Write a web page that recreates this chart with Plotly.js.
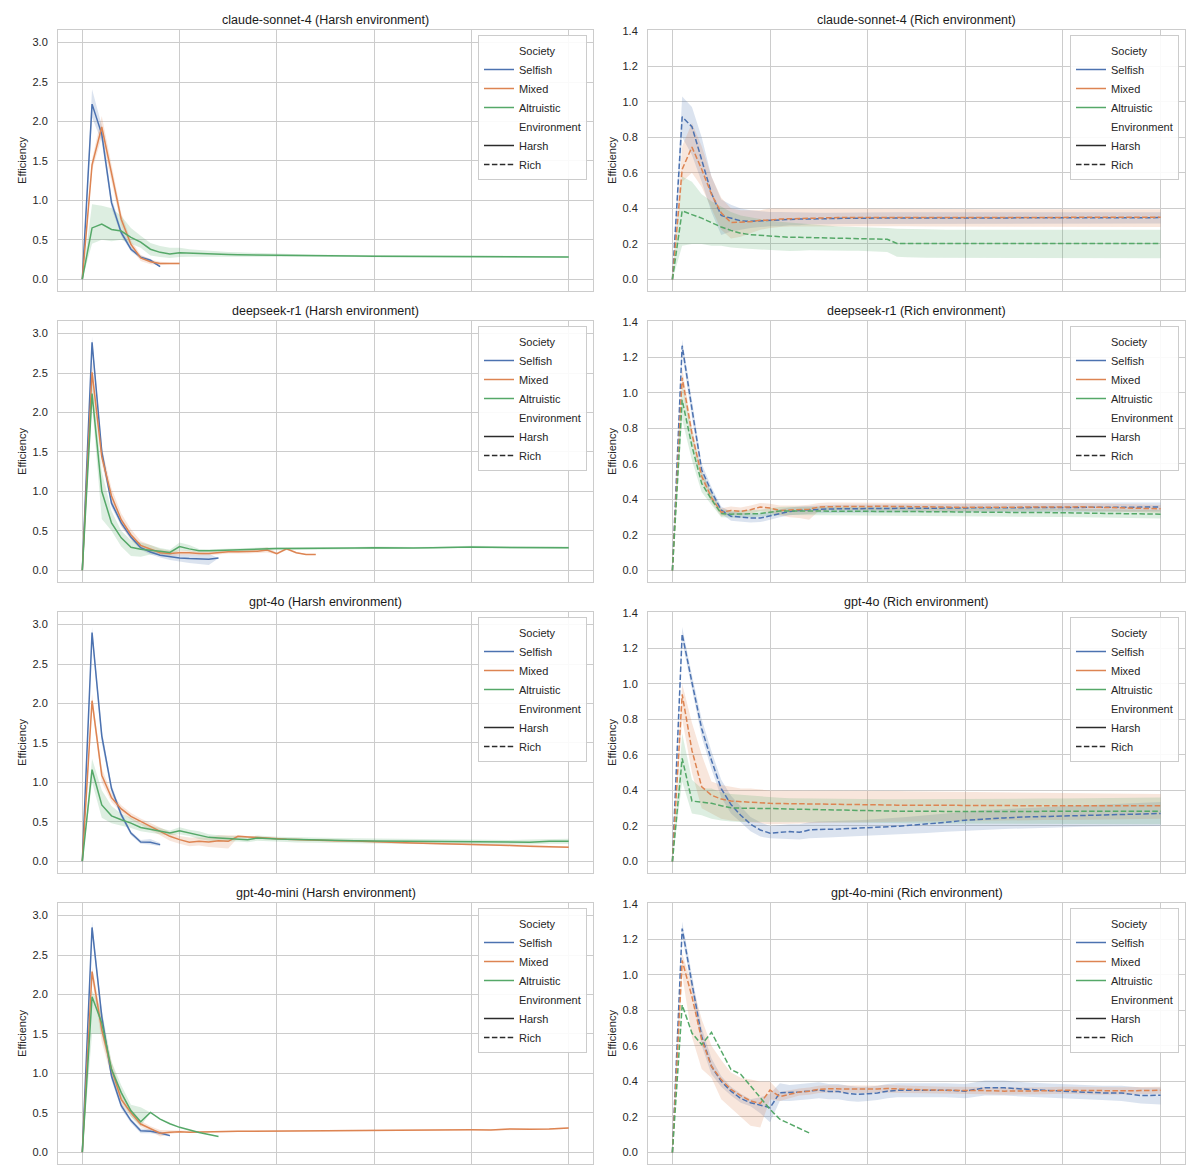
<!DOCTYPE html>
<html>
<head>
<meta charset="utf-8">
<script src="https://cdn.plot.ly/plotly-3.0.1.min.js"></script>
<style>
  html, body { margin: 0; padding: 0; background: #fff; }
  #chart { width: 1200px; height: 1173px; }
</style>
</head>
<body>
<div id="chart"></div>
<script>
// rounds (x positions): every round up to 24, then every other round
const steps = [0, 1, 2, 3, 4, 5, 6, 7, 8, 9, 10, 11, 12, 13, 14, 15, 16, 17, 18, 19, 20, 21, 22, 23, 24,
  26, 28, 30, 32, 34, 36, 38, 40, 42, 44, 46, 48, 50];

const panelTitles = [
  'claude-sonnet-4 (Harsh environment)', 'claude-sonnet-4 (Rich environment)',
  'deepseek-r1 (Harsh environment)', 'deepseek-r1 (Rich environment)',
  'gpt-4o (Harsh environment)', 'gpt-4o (Rich environment)',
  'gpt-4o-mini (Harsh environment)', 'gpt-4o-mini (Rich environment)'
];
const societies = ['Selfish', 'Mixed', 'Altruistic'];
const environments = ['Harsh', 'Rich'];

// ---- claude-sonnet-4, harsh
const claudeHarshSelfish = [0, 2.22, 1.84, 0.97, 0.59, 0.38, 0.28, 0.24, 0.16];
const claudeHarshSelfishLo = [0, 2.05, 1.74, 0.90, 0.55, 0.35, 0.26, 0.22, 0.15];
const claudeHarshSelfishHi = [0, 2.41, 1.95, 1.04, 0.64, 0.41, 0.30, 0.26, 0.17];
const claudeHarshMixed = [0, 1.45, 1.93, 1.34, 0.76, 0.44, 0.27, 0.22, 0.20, 0.20, 0.20];
const claudeHarshMixedLo = [0, 1.38, 1.80, 1.24, 0.68, 0.39, 0.23, 0.19, 0.18, 0.19, 0.19];
const claudeHarshMixedHi = [0, 1.52, 2.07, 1.44, 0.84, 0.49, 0.31, 0.25, 0.22, 0.21, 0.21];
const claudeHarshAltruistic = [0, 0.65, 0.70, 0.63, 0.61, 0.53, 0.47, 0.38, 0.34, 0.32, 0.335, 0.33, 0.32, 0.318, 0.315, 0.312, 0.31, 0.308, 0.305, 0.303, 0.30, 0.30, 0.298, 0.297, 0.296,
  0.295, 0.293, 0.292, 0.29, 0.289, 0.288, 0.287, 0.286, 0.285, 0.284, 0.283, 0.282, 0.28];
const claudeHarshAltruisticLo = [0, 0.45, 0.50, 0.48, 0.50, 0.45, 0.40, 0.30, 0.28, 0.27, 0.28, 0.285, 0.29, 0.29, 0.29, 0.29, 0.29, 0.29, 0.288, 0.287, 0.285, 0.285, 0.284, 0.283, 0.282,
  0.281, 0.28, 0.279, 0.278, 0.277, 0.276, 0.275, 0.274, 0.273, 0.272, 0.271, 0.27, 0.268];
const claudeHarshAltruisticHi = [0, 0.95, 0.93, 0.90, 0.80, 0.65, 0.55, 0.46, 0.42, 0.40, 0.40, 0.38, 0.37, 0.36, 0.35, 0.345, 0.34, 0.335, 0.33, 0.325, 0.32, 0.318, 0.315, 0.313, 0.311,
  0.309, 0.307, 0.305, 0.303, 0.301, 0.30, 0.299, 0.298, 0.297, 0.296, 0.295, 0.294, 0.292];

// ---- claude-sonnet-4, rich
const claudeRichSelfish = [0, 0.915, 0.86, 0.67, 0.485, 0.36, 0.345, 0.33, 0.327, 0.33, 0.33, 0.335, 0.338, 0.34, 0.34, 0.342, 0.343, 0.344, 0.345, 0.345, 0.345, 0.345, 0.345, 0.345, 0.345,
  0.345, 0.346, 0.346, 0.347, 0.347, 0.347, 0.348, 0.348, 0.348, 0.348, 0.348, 0.348, 0.348];
const claudeRichSelfishLo = [0, 0.80, 0.70, 0.55, 0.38, 0.25, 0.27, 0.28, 0.29, 0.295, 0.30, 0.30, 0.305, 0.305, 0.31, 0.31, 0.31, 0.312, 0.312, 0.313, 0.313, 0.314, 0.314, 0.315, 0.315,
  0.315, 0.315, 0.315, 0.315, 0.315, 0.315, 0.315, 0.315, 0.315, 0.315, 0.315, 0.315, 0.315];
const claudeRichSelfishHi = [0, 1.03, 0.97, 0.80, 0.58, 0.45, 0.42, 0.40, 0.39, 0.385, 0.38, 0.38, 0.378, 0.376, 0.375, 0.375, 0.375, 0.376, 0.377, 0.378, 0.378, 0.378, 0.378, 0.378, 0.378,
  0.378, 0.378, 0.378, 0.378, 0.378, 0.378, 0.378, 0.378, 0.378, 0.378, 0.378, 0.378, 0.378];
const claudeRichMixed = [0, 0.62, 0.745, 0.62, 0.48, 0.375, 0.32, 0.323, 0.325, 0.333, 0.334, 0.34, 0.342, 0.345, 0.345, 0.346, 0.347, 0.348, 0.348, 0.349, 0.35, 0.35, 0.35, 0.35, 0.35,
  0.35, 0.35, 0.35, 0.35, 0.35, 0.35, 0.35, 0.35, 0.35, 0.35, 0.35, 0.35, 0.35];
const claudeRichMixedLo = [0, 0.55, 0.60, 0.52, 0.40, 0.28, 0.23, 0.24, 0.26, 0.28, 0.29, 0.295, 0.298, 0.30, 0.30, 0.30, 0.30, 0.30, 0.30, 0.30, 0.30, 0.30, 0.30, 0.30, 0.30,
  0.298, 0.297, 0.296, 0.295, 0.295, 0.295, 0.295, 0.295, 0.295, 0.295, 0.295, 0.295, 0.295];
const claudeRichMixedHi = [0, 0.75, 0.88, 0.75, 0.58, 0.46, 0.40, 0.39, 0.39, 0.39, 0.40, 0.40, 0.40, 0.40, 0.40, 0.40, 0.40, 0.40, 0.40, 0.40, 0.40, 0.40, 0.40, 0.40, 0.40,
  0.398, 0.397, 0.396, 0.395, 0.395, 0.395, 0.395, 0.395, 0.395, 0.395, 0.395, 0.395, 0.395];
const claudeRichAltruistic = [0, 0.386, 0.365, 0.345, 0.32, 0.295, 0.276, 0.26, 0.252, 0.248, 0.243, 0.239, 0.237, 0.237, 0.236, 0.235, 0.234, 0.233, 0.232, 0.231, 0.23, 0.229, 0.226, 0.203, 0.203,
  0.203, 0.203, 0.203, 0.203, 0.203, 0.203, 0.203, 0.203, 0.203, 0.203, 0.203, 0.203, 0.203];
const claudeRichAltruisticLo = [0, 0.19, 0.20, 0.20, 0.19, 0.19, 0.18, 0.175, 0.17, 0.168, 0.165, 0.163, 0.16, 0.162, 0.165, 0.165, 0.165, 0.163, 0.162, 0.161, 0.16, 0.158, 0.155, 0.128, 0.125,
  0.122, 0.122, 0.12, 0.12, 0.12, 0.12, 0.12, 0.12, 0.12, 0.12, 0.12, 0.12, 0.12];
const claudeRichAltruisticHi = [0, 0.58, 0.55, 0.48, 0.44, 0.41, 0.38, 0.36, 0.35, 0.34, 0.33, 0.325, 0.32, 0.315, 0.31, 0.305, 0.30, 0.298, 0.296, 0.295, 0.295, 0.293, 0.29, 0.285, 0.283,
  0.282, 0.28, 0.28, 0.28, 0.28, 0.28, 0.28, 0.28, 0.28, 0.28, 0.28, 0.28, 0.28];

// ---- deepseek-r1, harsh
const deepseekHarshSelfish = [0, 2.89, 1.50, 0.85, 0.60, 0.42, 0.285, 0.23, 0.19, 0.17, 0.155, 0.147, 0.14, 0.14, 0.155];
const deepseekHarshSelfishLo = [0, 2.80, 1.42, 0.80, 0.56, 0.39, 0.26, 0.20, 0.16, 0.13, 0.11, 0.09, 0.075, 0.065, 0.15];
const deepseekHarshSelfishHi = [0, 2.96, 1.58, 0.90, 0.64, 0.45, 0.31, 0.26, 0.22, 0.21, 0.20, 0.20, 0.20, 0.21, 0.16];
const deepseekHarshMixed = [0, 2.51, 1.44, 0.94, 0.64, 0.45, 0.315, 0.27, 0.22, 0.21, 0.22, 0.22, 0.21, 0.21, 0.22, 0.235, 0.235, 0.235, 0.24, 0.255, 0.21, 0.27, 0.22, 0.20, 0.20];
const deepseekHarshMixedLo = [0, 2.35, 1.35, 0.85, 0.56, 0.39, 0.27, 0.22, 0.19, 0.18, 0.19, 0.19, 0.19, 0.19, 0.20, 0.21, 0.21, 0.21, 0.215, 0.225, 0.20, 0.255, 0.21, 0.195, 0.195];
const deepseekHarshMixedHi = [0, 2.65, 1.55, 1.04, 0.72, 0.52, 0.37, 0.32, 0.27, 0.25, 0.25, 0.25, 0.235, 0.235, 0.245, 0.26, 0.26, 0.26, 0.27, 0.29, 0.225, 0.285, 0.23, 0.205, 0.205];
const deepseekHarshAltruistic = [0, 2.24, 1.0, 0.6, 0.41, 0.29, 0.265, 0.256, 0.24, 0.225, 0.30, 0.27, 0.245, 0.245, 0.25, 0.255, 0.26, 0.265, 0.27, 0.27, 0.275, 0.275, 0.275, 0.28, 0.28,
  0.28, 0.28, 0.285, 0.28, 0.28, 0.283, 0.29, 0.295, 0.29, 0.288, 0.288, 0.285, 0.285];
const deepseekHarshAltruisticLo = [0, 2.1, 0.65, 0.5, 0.3, 0.18, 0.17, 0.2, 0.2, 0.19, 0.25, 0.24, 0.225, 0.23, 0.235, 0.24, 0.245, 0.25, 0.255, 0.255, 0.26, 0.26, 0.262, 0.265, 0.265,
  0.267, 0.267, 0.27, 0.267, 0.267, 0.27, 0.275, 0.28, 0.275, 0.273, 0.273, 0.27, 0.27];
const deepseekHarshAltruisticHi = [0, 2.4, 1.25, 0.75, 0.5, 0.38, 0.35, 0.32, 0.28, 0.26, 0.35, 0.32, 0.27, 0.265, 0.27, 0.275, 0.28, 0.285, 0.29, 0.29, 0.29, 0.29, 0.29, 0.295, 0.295,
  0.293, 0.293, 0.30, 0.293, 0.293, 0.296, 0.305, 0.31, 0.305, 0.303, 0.303, 0.30, 0.30];

// ---- deepseek-r1, rich
const deepseekRichSelfish = [0, 1.265, 0.91, 0.565, 0.445, 0.34, 0.305, 0.30, 0.295, 0.295, 0.308, 0.323, 0.332, 0.338, 0.342, 0.345, 0.346, 0.347, 0.348, 0.349, 0.35, 0.35, 0.35, 0.35, 0.35,
  0.35, 0.352, 0.352, 0.353, 0.353, 0.354, 0.355, 0.355, 0.356, 0.356, 0.357, 0.357, 0.357];
const deepseekRichSelfishLo = [0, 1.22, 0.86, 0.53, 0.42, 0.32, 0.28, 0.275, 0.27, 0.272, 0.285, 0.30, 0.31, 0.315, 0.32, 0.322, 0.323, 0.324, 0.325, 0.326, 0.327, 0.327, 0.327, 0.327, 0.327,
  0.327, 0.328, 0.328, 0.329, 0.329, 0.33, 0.33, 0.33, 0.331, 0.331, 0.332, 0.332, 0.332];
const deepseekRichSelfishHi = [0, 1.30, 0.96, 0.60, 0.47, 0.36, 0.33, 0.325, 0.32, 0.32, 0.33, 0.345, 0.355, 0.36, 0.364, 0.367, 0.369, 0.37, 0.371, 0.372, 0.373, 0.373, 0.373, 0.373, 0.373,
  0.373, 0.376, 0.376, 0.377, 0.377, 0.378, 0.38, 0.38, 0.381, 0.381, 0.382, 0.382, 0.382];
const deepseekRichMixed = [0, 1.085, 0.77, 0.53, 0.41, 0.327, 0.338, 0.332, 0.342, 0.357, 0.351, 0.338, 0.34, 0.342, 0.345, 0.357, 0.36, 0.36, 0.36, 0.361, 0.362, 0.362, 0.361, 0.36, 0.36,
  0.358, 0.357, 0.355, 0.356, 0.357, 0.358, 0.359, 0.36, 0.358, 0.355, 0.352, 0.35, 0.347];
const deepseekRichMixedLo = [0, 1.03, 0.73, 0.50, 0.385, 0.305, 0.315, 0.31, 0.32, 0.335, 0.325, 0.31, 0.30, 0.295, 0.285, 0.335, 0.34, 0.34, 0.34, 0.34, 0.34, 0.34, 0.34, 0.338, 0.338,
  0.336, 0.335, 0.333, 0.334, 0.335, 0.336, 0.337, 0.338, 0.336, 0.333, 0.33, 0.328, 0.325];
const deepseekRichMixedHi = [0, 1.14, 0.81, 0.56, 0.435, 0.35, 0.36, 0.355, 0.365, 0.38, 0.375, 0.365, 0.365, 0.365, 0.37, 0.38, 0.382, 0.382, 0.382, 0.383, 0.384, 0.384, 0.383, 0.382, 0.382,
  0.38, 0.379, 0.377, 0.378, 0.379, 0.38, 0.381, 0.382, 0.38, 0.377, 0.374, 0.372, 0.369];
const deepseekRichAltruistic = [0, 0.96, 0.70, 0.49, 0.40, 0.32, 0.317, 0.317, 0.32, 0.32, 0.328, 0.334, 0.335, 0.335, 0.335, 0.334, 0.334, 0.334, 0.333, 0.333, 0.333, 0.333, 0.333, 0.332, 0.332,
  0.331, 0.33, 0.328, 0.327, 0.327, 0.326, 0.326, 0.325, 0.324, 0.323, 0.321, 0.319, 0.317];
const deepseekRichAltruisticLo = [0, 0.85, 0.62, 0.44, 0.37, 0.30, 0.297, 0.297, 0.30, 0.30, 0.306, 0.31, 0.312, 0.312, 0.312, 0.31, 0.31, 0.31, 0.31, 0.31, 0.31, 0.31, 0.31, 0.31, 0.31,
  0.308, 0.307, 0.305, 0.304, 0.304, 0.303, 0.302, 0.301, 0.30, 0.299, 0.297, 0.295, 0.292];
const deepseekRichAltruisticHi = [0, 1.05, 0.78, 0.55, 0.44, 0.345, 0.338, 0.338, 0.342, 0.342, 0.35, 0.357, 0.358, 0.358, 0.358, 0.357, 0.357, 0.357, 0.356, 0.356, 0.356, 0.356, 0.356, 0.355, 0.355,
  0.354, 0.353, 0.351, 0.35, 0.35, 0.349, 0.349, 0.348, 0.347, 0.346, 0.344, 0.342, 0.34];

// ---- gpt-4o, harsh
const gpt4oHarshSelfish = [0, 2.90, 1.59, 0.92, 0.59, 0.357, 0.243, 0.24, 0.21];
const gpt4oHarshSelfishLo = [0, 2.82, 1.50, 0.87, 0.55, 0.33, 0.22, 0.21, 0.19];
const gpt4oHarshSelfishHi = [0, 2.97, 1.66, 0.97, 0.63, 0.38, 0.27, 0.28, 0.23];
const gpt4oHarshMixed = [0, 2.035, 1.09, 0.805, 0.663, 0.567, 0.504, 0.44, 0.378, 0.315, 0.273, 0.24, 0.252, 0.243, 0.26, 0.252, 0.315, 0.306, 0.302, 0.29, 0.28, 0.278, 0.275, 0.27, 0.265,
  0.26, 0.255, 0.245, 0.24, 0.232, 0.225, 0.22, 0.21, 0.205, 0.20, 0.19, 0.182, 0.178];
const gpt4oHarshMixedLo = [0, 1.95, 1.0, 0.75, 0.62, 0.53, 0.47, 0.40, 0.33, 0.26, 0.22, 0.19, 0.20, 0.18, 0.17, 0.16, 0.30, 0.29, 0.288, 0.278, 0.268, 0.266, 0.263, 0.258, 0.253,
  0.248, 0.243, 0.233, 0.228, 0.22, 0.213, 0.208, 0.198, 0.193, 0.188, 0.178, 0.17, 0.166];
const gpt4oHarshMixedHi = [0, 2.12, 1.18, 0.86, 0.71, 0.61, 0.54, 0.48, 0.42, 0.37, 0.32, 0.30, 0.30, 0.30, 0.33, 0.33, 0.33, 0.32, 0.316, 0.302, 0.292, 0.29, 0.287, 0.282, 0.277,
  0.272, 0.267, 0.257, 0.252, 0.244, 0.237, 0.232, 0.222, 0.217, 0.212, 0.202, 0.194, 0.19];
const gpt4oHarshAltruistic = [0, 1.16, 0.713, 0.575, 0.525, 0.483, 0.428, 0.407, 0.378, 0.357, 0.386, 0.357, 0.336, 0.302, 0.294, 0.285, 0.285, 0.273, 0.294, 0.285, 0.28, 0.277, 0.273, 0.27, 0.266,
  0.262, 0.258, 0.255, 0.252, 0.249, 0.246, 0.243, 0.24, 0.238, 0.236, 0.24, 0.252, 0.252];
const gpt4oHarshAltruisticLo = [0, 1.0, 0.55, 0.48, 0.45, 0.42, 0.38, 0.36, 0.34, 0.33, 0.34, 0.32, 0.28, 0.26, 0.255, 0.25, 0.25, 0.24, 0.26, 0.25, 0.245, 0.242, 0.238, 0.235, 0.232,
  0.228, 0.225, 0.222, 0.22, 0.217, 0.215, 0.213, 0.21, 0.208, 0.207, 0.21, 0.222, 0.222];
const gpt4oHarshAltruisticHi = [0, 1.3, 0.9, 0.7, 0.6, 0.55, 0.48, 0.45, 0.42, 0.39, 0.43, 0.40, 0.38, 0.34, 0.33, 0.32, 0.32, 0.305, 0.325, 0.315, 0.31, 0.307, 0.303, 0.30, 0.297,
  0.293, 0.29, 0.287, 0.284, 0.281, 0.278, 0.275, 0.272, 0.27, 0.27, 0.275, 0.283, 0.283];

// ---- gpt-4o, rich
const gpt4oRichSelfish = [0, 1.28, 1.008, 0.747, 0.57, 0.41, 0.32, 0.26, 0.21, 0.177, 0.159, 0.164, 0.168, 0.164, 0.177, 0.18, 0.18, 0.182, 0.185, 0.187, 0.19, 0.192, 0.195, 0.198, 0.202,
  0.21, 0.22, 0.232, 0.24, 0.245, 0.25, 0.253, 0.256, 0.258, 0.262, 0.265, 0.268, 0.27];
const gpt4oRichSelfishLo = [0, 1.24, 0.97, 0.70, 0.52, 0.36, 0.27, 0.22, 0.17, 0.14, 0.13, 0.128, 0.126, 0.124, 0.13, 0.133, 0.135, 0.137, 0.14, 0.142, 0.144, 0.146, 0.148, 0.151, 0.154,
  0.16, 0.167, 0.172, 0.178, 0.182, 0.186, 0.19, 0.193, 0.195, 0.197, 0.198, 0.20, 0.20];
const gpt4oRichSelfishHi = [0, 1.32, 1.05, 0.80, 0.62, 0.46, 0.37, 0.31, 0.25, 0.22, 0.20, 0.205, 0.21, 0.21, 0.22, 0.225, 0.226, 0.228, 0.23, 0.232, 0.235, 0.238, 0.242, 0.246, 0.25,
  0.26, 0.272, 0.28, 0.29, 0.296, 0.302, 0.307, 0.31, 0.315, 0.32, 0.325, 0.33, 0.335];
const gpt4oRichMixed = [0, 0.94, 0.625, 0.42, 0.373, 0.351, 0.34, 0.336, 0.336, 0.332, 0.327, 0.326, 0.325, 0.324, 0.322, 0.321, 0.32, 0.32, 0.319, 0.319, 0.318, 0.318, 0.317, 0.317, 0.317,
  0.316, 0.316, 0.315, 0.315, 0.315, 0.314, 0.314, 0.313, 0.313, 0.313, 0.313, 0.313, 0.313];
const gpt4oRichMixedLo = [0, 0.80, 0.50, 0.30, 0.27, 0.24, 0.23, 0.225, 0.22, 0.215, 0.21, 0.21, 0.21, 0.212, 0.215, 0.217, 0.218, 0.22, 0.22, 0.22, 0.22, 0.222, 0.223, 0.224, 0.225,
  0.226, 0.227, 0.228, 0.23, 0.23, 0.232, 0.233, 0.234, 0.235, 0.236, 0.237, 0.238, 0.24];
const gpt4oRichMixedHi = [0, 1.0, 0.78, 0.60, 0.45, 0.43, 0.42, 0.41, 0.41, 0.405, 0.40, 0.40, 0.40, 0.40, 0.40, 0.40, 0.40, 0.40, 0.40, 0.40, 0.40, 0.398, 0.397, 0.396, 0.395,
  0.394, 0.393, 0.392, 0.39, 0.389, 0.388, 0.387, 0.386, 0.385, 0.384, 0.383, 0.382, 0.38];
const gpt4oRichAltruistic = [0, 0.58, 0.34, 0.332, 0.327, 0.314, 0.302, 0.30, 0.30, 0.299, 0.298, 0.297, 0.295, 0.294, 0.293, 0.292, 0.29, 0.288, 0.285, 0.284, 0.283, 0.283, 0.282, 0.282, 0.282,
  0.282, 0.281, 0.28, 0.28, 0.281, 0.281, 0.282, 0.282, 0.282, 0.282, 0.282, 0.282, 0.282];
const gpt4oRichAltruisticLo = [0, 0.45, 0.27, 0.26, 0.24, 0.23, 0.225, 0.222, 0.22, 0.22, 0.22, 0.22, 0.22, 0.22, 0.22, 0.22, 0.22, 0.22, 0.22, 0.22, 0.22, 0.218, 0.217, 0.216, 0.215,
  0.214, 0.213, 0.212, 0.211, 0.21, 0.21, 0.21, 0.21, 0.21, 0.21, 0.21, 0.21, 0.21];
const gpt4oRichAltruisticHi = [0, 0.72, 0.46, 0.41, 0.41, 0.39, 0.38, 0.375, 0.37, 0.365, 0.36, 0.358, 0.356, 0.355, 0.354, 0.353, 0.352, 0.351, 0.35, 0.35, 0.35, 0.35, 0.35, 0.35, 0.35,
  0.35, 0.35, 0.35, 0.351, 0.352, 0.353, 0.354, 0.355, 0.356, 0.357, 0.358, 0.359, 0.36];

// ---- gpt-4o-mini, harsh
const miniHarshSelfish = [0, 2.85, 1.72, 0.965, 0.59, 0.40, 0.273, 0.264, 0.243, 0.21];
const miniHarshSelfishLo = [0, 2.78, 1.65, 0.91, 0.55, 0.37, 0.24, 0.24, 0.22, 0.20];
const miniHarshSelfishHi = [0, 2.93, 1.80, 1.02, 0.63, 0.43, 0.30, 0.29, 0.265, 0.22];
const miniHarshMixed = [0, 2.29, 1.55, 1.05, 0.67, 0.50, 0.357, 0.294, 0.24, 0.252, 0.26, 0.252, 0.256, 0.258, 0.26, 0.262, 0.265, 0.266, 0.267, 0.268, 0.27, 0.271, 0.272, 0.273, 0.274,
  0.276, 0.278, 0.28, 0.282, 0.284, 0.285, 0.286, 0.285, 0.282, 0.294, 0.29, 0.293, 0.306];
const miniHarshMixedLo = [0, 2.20, 1.40, 0.95, 0.60, 0.45, 0.32, 0.27, 0.20, 0.23, 0.245, 0.24, 0.245, 0.247, 0.25, 0.252, 0.255, 0.256, 0.257, 0.258, 0.26, 0.261, 0.262, 0.263, 0.264,
  0.266, 0.268, 0.27, 0.272, 0.274, 0.275, 0.276, 0.275, 0.272, 0.284, 0.28, 0.283, 0.296];
const miniHarshMixedHi = [0, 2.35, 1.70, 1.15, 0.75, 0.55, 0.40, 0.33, 0.28, 0.275, 0.275, 0.265, 0.267, 0.269, 0.27, 0.272, 0.275, 0.276, 0.277, 0.278, 0.28, 0.281, 0.282, 0.283, 0.284,
  0.286, 0.288, 0.29, 0.292, 0.294, 0.295, 0.296, 0.295, 0.292, 0.304, 0.30, 0.303, 0.316];
const miniHarshAltruistic = [0, 1.97, 1.64, 1.05, 0.755, 0.525, 0.386, 0.504, 0.42, 0.36, 0.315, 0.28, 0.25, 0.225, 0.20];
const miniHarshAltruisticLo = [0, 1.50, 1.50, 0.95, 0.65, 0.45, 0.33, 0.504, 0.42, 0.36, 0.315, 0.28, 0.25, 0.225, 0.20];
const miniHarshAltruisticHi = [0, 2.05, 1.80, 1.15, 0.85, 0.60, 0.57, 0.504, 0.42, 0.36, 0.315, 0.28, 0.25, 0.225, 0.20];

// ---- gpt-4o-mini, rich
const miniRichSelfish = [0, 1.26, 0.952, 0.653, 0.485, 0.40, 0.345, 0.304, 0.28, 0.265, 0.252, 0.336, 0.336, 0.34, 0.345, 0.351, 0.343, 0.343, 0.332, 0.327, 0.33, 0.335, 0.345, 0.35, 0.35,
  0.35, 0.35, 0.345, 0.364, 0.364, 0.355, 0.35, 0.345, 0.34, 0.335, 0.335, 0.32, 0.322];
const miniRichSelfishLo = [0, 1.22, 0.90, 0.60, 0.44, 0.37, 0.32, 0.28, 0.26, 0.22, 0.17, 0.29, 0.29, 0.295, 0.30, 0.305, 0.30, 0.30, 0.29, 0.285, 0.29, 0.295, 0.305, 0.31, 0.31,
  0.31, 0.31, 0.305, 0.32, 0.32, 0.315, 0.31, 0.305, 0.30, 0.295, 0.29, 0.275, 0.27];
const miniRichSelfishHi = [0, 1.30, 1.0, 0.70, 0.53, 0.43, 0.37, 0.33, 0.30, 0.31, 0.33, 0.39, 0.38, 0.385, 0.39, 0.395, 0.385, 0.385, 0.375, 0.37, 0.37, 0.375, 0.385, 0.39, 0.39,
  0.39, 0.39, 0.385, 0.405, 0.405, 0.395, 0.39, 0.385, 0.38, 0.375, 0.375, 0.365, 0.365];
const miniRichMixed = [0, 1.08, 0.877, 0.635, 0.485, 0.41, 0.355, 0.32, 0.29, 0.276, 0.351, 0.314, 0.327, 0.34, 0.345, 0.355, 0.358, 0.358, 0.358, 0.356, 0.355, 0.357, 0.36, 0.357, 0.355,
  0.352, 0.35, 0.35, 0.348, 0.345, 0.345, 0.347, 0.35, 0.348, 0.345, 0.347, 0.348, 0.35];
const miniRichMixedLo = [0, 1.0, 0.65, 0.47, 0.42, 0.30, 0.25, 0.20, 0.15, 0.14, 0.30, 0.29, 0.305, 0.32, 0.325, 0.335, 0.338, 0.338, 0.338, 0.336, 0.335, 0.337, 0.34, 0.337, 0.335,
  0.332, 0.33, 0.33, 0.328, 0.325, 0.325, 0.327, 0.33, 0.328, 0.325, 0.327, 0.328, 0.33];
const miniRichMixedHi = [0, 1.12, 0.95, 0.75, 0.60, 0.52, 0.45, 0.42, 0.41, 0.40, 0.40, 0.34, 0.35, 0.36, 0.365, 0.375, 0.378, 0.378, 0.378, 0.376, 0.375, 0.377, 0.38, 0.377, 0.375,
  0.372, 0.37, 0.37, 0.368, 0.365, 0.365, 0.367, 0.37, 0.368, 0.365, 0.367, 0.368, 0.37];
const miniRichAltruistic = [0, 0.83, 0.672, 0.607, 0.676, 0.57, 0.467, 0.44, 0.373, 0.31, 0.243, 0.187, 0.16, 0.135, 0.11];
const miniRichAltruisticLo = miniRichAltruistic;
const miniRichAltruisticHi = miniRichAltruistic;

const colors = ['#4C72B0', '#DD8452', '#55A868'];
const bandColors = ['rgba(76,114,176,0.2)', 'rgba(221,132,82,0.2)', 'rgba(85,168,104,0.2)'];
const dashRich = '5.5px,2.4px';
const FONT = 'Liberation Sans, Arial, sans-serif';

const panels = [
  [[claudeHarshSelfish, claudeHarshSelfishLo, claudeHarshSelfishHi], [claudeHarshMixed, claudeHarshMixedLo, claudeHarshMixedHi], [claudeHarshAltruistic, claudeHarshAltruisticLo, claudeHarshAltruisticHi]],
  [[claudeRichSelfish, claudeRichSelfishLo, claudeRichSelfishHi], [claudeRichMixed, claudeRichMixedLo, claudeRichMixedHi], [claudeRichAltruistic, claudeRichAltruisticLo, claudeRichAltruisticHi]],
  [[deepseekHarshSelfish, deepseekHarshSelfishLo, deepseekHarshSelfishHi], [deepseekHarshMixed, deepseekHarshMixedLo, deepseekHarshMixedHi], [deepseekHarshAltruistic, deepseekHarshAltruisticLo, deepseekHarshAltruisticHi]],
  [[deepseekRichSelfish, deepseekRichSelfishLo, deepseekRichSelfishHi], [deepseekRichMixed, deepseekRichMixedLo, deepseekRichMixedHi], [deepseekRichAltruistic, deepseekRichAltruisticLo, deepseekRichAltruisticHi]],
  [[gpt4oHarshSelfish, gpt4oHarshSelfishLo, gpt4oHarshSelfishHi], [gpt4oHarshMixed, gpt4oHarshMixedLo, gpt4oHarshMixedHi], [gpt4oHarshAltruistic, gpt4oHarshAltruisticLo, gpt4oHarshAltruisticHi]],
  [[gpt4oRichSelfish, gpt4oRichSelfishLo, gpt4oRichSelfishHi], [gpt4oRichMixed, gpt4oRichMixedLo, gpt4oRichMixedHi], [gpt4oRichAltruistic, gpt4oRichAltruisticLo, gpt4oRichAltruisticHi]],
  [[miniHarshSelfish, miniHarshSelfishLo, miniHarshSelfishHi], [miniHarshMixed, miniHarshMixedLo, miniHarshMixedHi], [miniHarshAltruistic, miniHarshAltruisticLo, miniHarshAltruisticHi]],
  [[miniRichSelfish, miniRichSelfishLo, miniRichSelfishHi], [miniRichMixed, miniRichMixedLo, miniRichMixedHi], [miniRichAltruistic, miniRichAltruisticLo, miniRichAltruisticHi]]
];

const W = 1200, H = 1173;
const colX = [[58, 593], [648, 1185]];
const rowTop = 30, rowH = 261, rowPitch = 291;

const traces = [];
const layout = {
  width: W, height: H,
  margin: { l: 0, r: 0, t: 0, b: 0 },
  paper_bgcolor: '#ffffff', plot_bgcolor: '#ffffff',
  font: { family: FONT, size: 11, color: '#262626' },
  showlegend: true,
  annotations: []
};

panels.forEach((series, i) => {
  const s = i === 0 ? '' : String(i + 1);
  const col = i % 2, row = Math.floor(i / 2);
  const rich = col === 1;
  const xa = 'x' + s, ya = 'y' + s, lg = 'legend' + s;
  const top = rowTop + row * rowPitch, bottom = top + rowH;

  // CI bands first, under every line
  series.forEach(([m, lo, hi], k) => {
    const xs = steps.slice(0, m.length);
    traces.push({
      x: xs.concat(xs.slice().reverse()),
      y: hi.concat(lo.slice().reverse()),
      xaxis: xa, yaxis: ya, mode: 'lines', fill: 'toself',
      fillcolor: bandColors[k], line: { width: 0 },
      hoverinfo: 'skip', showlegend: false
    });
  });
  series.forEach(([m], k) => {
    traces.push({
      x: steps.slice(0, m.length), y: m,
      xaxis: xa, yaxis: ya, mode: 'lines', name: societies[k],
      line: { color: colors[k], width: 1.5, dash: rich ? dashRich : 'solid' },
      showlegend: false
    });
  });

  // legend entries: two headings plus hue and style keys
  const keys = [
    { name: 'Society', color: 'rgba(0,0,0,0)', dash: 'solid' },
    ...societies.map((n, k) => ({ name: n, color: colors[k], dash: 'solid' })),
    { name: 'Environment', color: 'rgba(0,0,0,0)', dash: 'solid' },
    { name: environments[0], color: '#2b2b2b', dash: 'solid' },
    { name: environments[1], color: '#2b2b2b', dash: dashRich }
  ];
  keys.forEach(kk => traces.push({
    x: [null], y: [null], xaxis: xa, yaxis: ya, mode: 'lines', name: kk.name,
    line: { color: kk.color, width: 1.5, dash: kk.dash }, legend: lg, showlegend: true
  }));

  const axisBase = {
    showgrid: true, gridcolor: '#cccccc', gridwidth: 1,
    showline: true, linecolor: '#cccccc', linewidth: 1, mirror: true,
    zeroline: false
  };
  layout['xaxis' + s] = Object.assign({}, axisBase, {
    domain: [colX[col][0] / W, colX[col][1] / W],
    range: [-2.5, 52.5], tick0: 0, dtick: 10,
    showticklabels: false, ticks: '',
    anchor: ya
  });
  layout['yaxis' + s] = Object.assign({}, axisBase, {
    domain: [1 - bottom / H, 1 - top / H],
    range: rich ? [-0.065, 1.404] : [-0.15, 3.16],
    tick0: 0, dtick: rich ? 0.2 : 0.5, tickformat: '.1f',
    ticks: 'outside', ticklen: 7, tickcolor: 'rgba(0,0,0,0)',
    tickfont: { size: 11, color: '#262626' },
    title: { text: 'Efficiency', font: { size: 11, color: '#262626' }, standoff: 3 },
    anchor: xa
  });
  layout[lg] = {
    x: (colX[col][1] - 6) / W, y: 1 - (top + 5) / H,
    xanchor: 'right', yanchor: 'top',
    bgcolor: 'rgba(255,255,255,0.9)', bordercolor: '#cccccc', borderwidth: 1,
    font: { size: 11, color: '#262626', family: FONT },
    itemwidth: 30, tracegroupgap: 0
  };
  layout.annotations.push({
    text: panelTitles[i], xref: xa + ' domain', yref: ya + ' domain',
    x: 0.5, y: 1, xanchor: 'center', yanchor: 'bottom', yshift: 1,
    showarrow: false, font: { size: 12.5, color: '#1a1a1a', family: FONT }
  });
});

Plotly.newPlot('chart', traces, layout, { displayModeBar: false, staticPlot: true });
</script>
</body>
</html>
